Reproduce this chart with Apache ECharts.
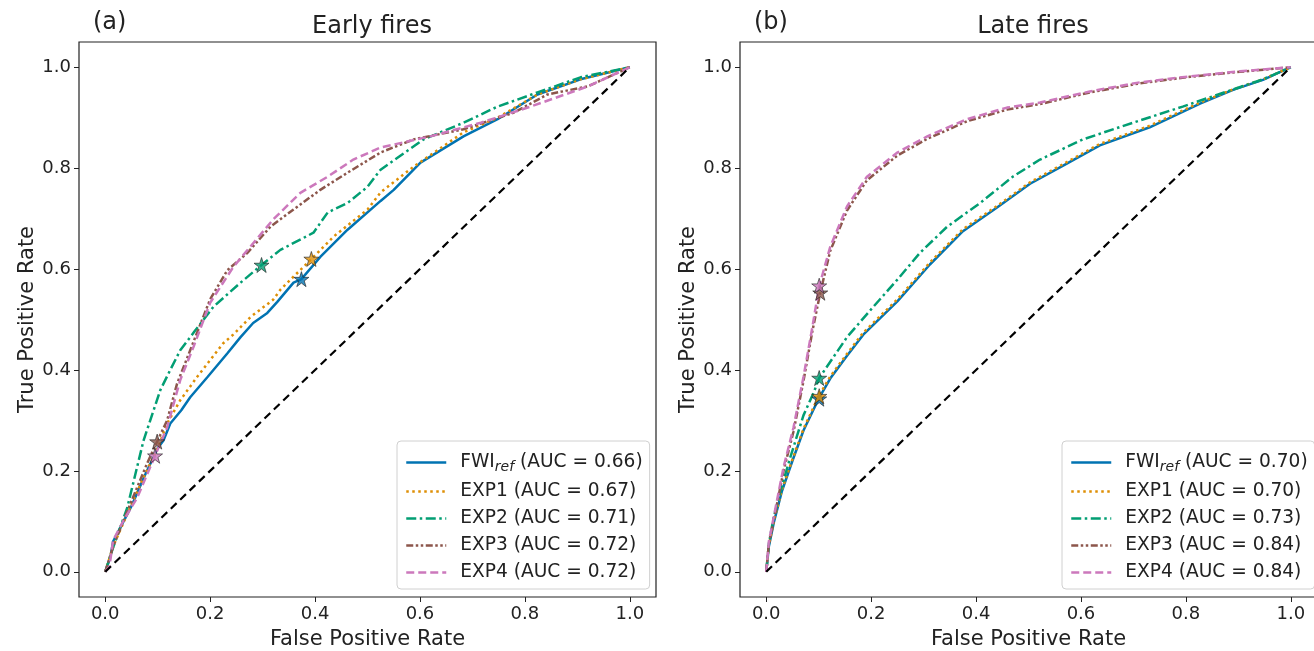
<!DOCTYPE html>
<html><head><meta charset="utf-8">
<script src="https://cdn.jsdelivr.net/npm/echarts@6/dist/echarts.min.js"></script>
<style>html,body{margin:0;padding:0;background:#fff}#c{width:1314px;height:651px}</style>
</head><body><div id="c"></div>
<script>
// ---- data ----
const seriesNames = ['FWI_ref', 'EXP1', 'EXP2', 'EXP3', 'EXP4'];
const aucEarly = ['0.66', '0.67', '0.71', '0.72', '0.72'];
const aucLate = ['0.70', '0.70', '0.73', '0.84', '0.84'];
const tickValues = [0, 0.2, 0.4, 0.6, 0.8, 1.0];
const panelTitles = ['Early fires', 'Late fires'];
const panelLetters = ['(a)', '(b)'];

const earlyFWI = [[0,0],[0.01,0.03],[0.015,0.06],[0.03,0.09],[0.05,0.13],[0.075,0.19],[0.1,0.245],[0.111,0.26],[0.124,0.294],[0.145,0.32],[0.162,0.346],[0.195,0.386],[0.233,0.433],[0.258,0.465],[0.282,0.493],[0.309,0.513],[0.328,0.535],[0.359,0.573],[0.374,0.58],[0.41,0.624],[0.462,0.678],[0.525,0.735],[0.55,0.757],[0.601,0.811],[0.683,0.863],[0.748,0.897],[0.824,0.946],[0.906,0.976],[1,1]];
const earlyEXP1 = [[0,0],[0.015,0.05],[0.04,0.11],[0.07,0.18],[0.1,0.245],[0.118,0.294],[0.143,0.34],[0.175,0.386],[0.225,0.453],[0.244,0.47],[0.277,0.505],[0.32,0.539],[0.334,0.559],[0.393,0.62],[0.435,0.664],[0.5,0.718],[0.525,0.752],[0.588,0.803],[0.683,0.871],[0.748,0.9],[0.824,0.946],[0.906,0.976],[1,1]];
const earlyEXP2 = [[0,0],[0.015,0.048],[0.042,0.127],[0.073,0.26],[0.105,0.36],[0.124,0.4],[0.143,0.439],[0.17,0.476],[0.206,0.525],[0.258,0.573],[0.298,0.608],[0.334,0.638],[0.397,0.672],[0.424,0.712],[0.462,0.731],[0.5,0.763],[0.525,0.797],[0.607,0.857],[0.683,0.89],[0.748,0.922],[0.824,0.95],[0.906,0.98],[1,1]];
const earlyEXP3 = [[0,0],[0.015,0.05],[0.048,0.135],[0.08,0.215],[0.099,0.258],[0.118,0.3],[0.137,0.373],[0.162,0.439],[0.2,0.54],[0.233,0.598],[0.271,0.632],[0.315,0.684],[0.359,0.718],[0.41,0.757],[0.462,0.791],[0.525,0.831],[0.588,0.857],[0.683,0.877],[0.779,0.91],[0.843,0.946],[0.92,0.962],[1,1]];
const earlyEXP4 = [[0,0],[0.008,0.01],[0.015,0.062],[0.034,0.1],[0.061,0.147],[0.095,0.23],[0.118,0.286],[0.143,0.38],[0.168,0.445],[0.2,0.533],[0.244,0.604],[0.32,0.698],[0.372,0.751],[0.424,0.783],[0.473,0.817],[0.525,0.841],[0.62,0.863],[0.716,0.89],[0.811,0.922],[0.92,0.962],[1,1]];
const earlyStars = [[0.374,0.58],[0.393,0.62],[0.298,0.608],[0.099,0.258],[0.095,0.23]];

const lateFWI = [[0,0],[0.005,0.05],[0.015,0.1],[0.03,0.16],[0.05,0.22],[0.071,0.28],[0.1,0.343],[0.122,0.383],[0.154,0.428],[0.185,0.47],[0.25,0.536],[0.312,0.609],[0.375,0.675],[0.44,0.722],[0.503,0.769],[0.573,0.809],[0.636,0.845],[0.731,0.881],[0.827,0.928],[0.89,0.955],[0.947,0.975],[1,1]];
const lateEXP1 = [[0,0],[0.005,0.052],[0.015,0.103],[0.03,0.163],[0.05,0.223],[0.071,0.283],[0.1,0.348],[0.122,0.387],[0.154,0.432],[0.185,0.474],[0.25,0.54],[0.312,0.613],[0.375,0.679],[0.44,0.725],[0.503,0.772],[0.573,0.812],[0.636,0.848],[0.731,0.884],[0.827,0.93],[0.89,0.956],[0.947,0.976],[1,1]];
const lateEXP2 = [[0,0],[0.005,0.055],[0.014,0.107],[0.03,0.17],[0.046,0.227],[0.071,0.31],[0.09,0.354],[0.101,0.384],[0.154,0.465],[0.204,0.525],[0.25,0.579],[0.293,0.632],[0.345,0.684],[0.408,0.731],[0.47,0.783],[0.522,0.817],[0.604,0.857],[0.699,0.89],[0.794,0.922],[0.89,0.956],[0.947,0.976],[1,1]];
const lateEXP3 = [[0,0],[0.005,0.055],[0.014,0.1],[0.033,0.2],[0.052,0.278],[0.071,0.378],[0.088,0.477],[0.103,0.553],[0.122,0.636],[0.154,0.716],[0.192,0.776],[0.25,0.825],[0.307,0.858],[0.383,0.893],[0.459,0.916],[0.522,0.927],[0.617,0.95],[0.712,0.968],[0.808,0.981],[0.903,0.991],[1,1]];
const lateEXP4 = [[0,0],[0.005,0.06],[0.014,0.107],[0.033,0.207],[0.052,0.286],[0.071,0.386],[0.088,0.485],[0.101,0.566],[0.122,0.644],[0.154,0.724],[0.192,0.783],[0.25,0.831],[0.307,0.863],[0.383,0.897],[0.459,0.92],[0.522,0.93],[0.617,0.952],[0.712,0.97],[0.808,0.982],[0.903,0.992],[1,1]];
const lateStars = [[0.101,0.343],[0.101,0.348],[0.101,0.384],[0.103,0.553],[0.101,0.567]];
const diagonal = [[0,0],[1,1]];

// ---- styles ----
const colors = ['#0173b2', '#de8f05', '#029e73', '#8c564b', '#cc78bc'];
const dashes = ['solid', [2.5, 3.5], [10, 3.5, 2.5, 3.5], [7, 2.5, 2.5, 2.5, 2.5, 2.5], [8, 4]];
const FONT = 'DejaVu Sans';
const STAR = 'path://M50,0 L61.2,34.5 L97.6,34.5 L68.2,55.9 L79.4,90.5 L50,69.1 L20.6,90.5 L31.8,55.9 L2.4,34.5 L38.8,34.5 Z';

const panels = [
  {curves: [earlyFWI, earlyEXP1, earlyEXP2, earlyEXP3, earlyEXP4], stars: earlyStars, auc: aucEarly},
  {curves: [lateFWI, lateEXP1, lateEXP2, lateEXP3, lateEXP4], stars: lateStars, auc: aucLate}
];
const gridLefts = [79, 740];
const gridW = 577, gridTop = 42, gridH = 555;

const series = [];
const legends = [];
panels.forEach((p, pi) => {
  const names = [];
  p.curves.forEach((c, i) => {
    const nm = seriesNames[i] + ' (AUC = ' + p.auc[i] + ')' + (pi ? '\u200b' : '');
    names.push(nm);
    series.push({
      type: 'line', name: nm, xAxisIndex: pi, yAxisIndex: pi, data: c,
      showSymbol: false, symbol: 'none', smooth: false, animation: false, z: 2 + i,
      lineStyle: {color: colors[i], width: 2.5, type: dashes[i], cap: 'butt'},
      itemStyle: {color: colors[i]}
    });
  });
  series.push({
    type: 'line', xAxisIndex: pi, yAxisIndex: pi, data: diagonal, showSymbol: false, symbol: 'none',
    animation: false, z: 8, lineStyle: {color: '#000', width: 2.2, type: [8, 5]}
  });
  series.push({
    type: 'scatter', xAxisIndex: pi, yAxisIndex: pi, animation: false, z: 10,
    symbol: STAR, symbolSize: 15,
    data: p.stars.map((s, i) => ({value: s, itemStyle: {color: colors[i], borderColor: '#222', borderWidth: 0.8}}))
  });
  legends.push({
    orient: 'vertical', left: gridLefts[pi] + (pi ? 322 : 318), top: 441,
    data: names, itemWidth: 40, itemHeight: 12, itemGap: 8,
    padding: [12, 7, 7, 8],
    backgroundColor: 'rgba(255,255,255,0.8)', borderColor: '#d0d0d0', borderWidth: 1, borderRadius: 4,
    selectedMode: false,
    itemStyle: {color: 'transparent', borderWidth: 0, opacity: 0},
    textStyle: {fontFamily: FONT, fontSize: 18.6, color: '#222', padding: [0, 0, 0, 9],
      rich: {sub: {fontFamily: FONT, fontSize: 14, fontStyle: 'italic', color: '#222', padding: [9, 0, 0, 0]}}},
    formatter: n => n.replace('\u200b', '').replace('FWI_ref', 'FWI{sub|ref}'),
    lineStyle: {width: 2.5}
  });
});

const axisCommon = {
  type: 'value', min: -0.05, max: 1.05,
  splitLine: {show: false},
  axisLine: {show: false, onZero: false},
  axisTick: {show: true, inside: false, length: 5, lineStyle: {color: '#222', width: 1}, customValues: tickValues},
  axisLabel: {customValues: tickValues, fontFamily: FONT, fontSize: 18, color: '#222', margin: 8,
    formatter: v => v.toFixed(1)},
  nameTextStyle: {fontFamily: FONT, fontSize: 21, color: '#222'}
};

const option = {
  backgroundColor: '#fff',
  animation: false,
  title: [
    {text: panelTitles[0], left: 367, textAlign: 'center', top: 10, textStyle: {fontFamily: FONT, fontSize: 24, fontWeight: 'normal', color: '#222'}},
    {text: panelTitles[1], left: 1028, textAlign: 'center', top: 10, textStyle: {fontFamily: FONT, fontSize: 24, fontWeight: 'normal', color: '#222'}},
    {text: panelLetters[0], left: 88, top: 6, textStyle: {fontFamily: FONT, fontSize: 24, fontWeight: 'normal', color: '#222'}},
    {text: panelLetters[1], left: 749, top: 6, textStyle: {fontFamily: FONT, fontSize: 24, fontWeight: 'normal', color: '#222'}}
  ],
  grid: gridLefts.map(l => ({left: l, top: gridTop, width: gridW, height: gridH, show: true, containLabel: false, outerBoundsMode: 'none', borderColor: '#222', borderWidth: 1.2, backgroundColor: 'transparent'})),
  xAxis: [0, 1].map(i => Object.assign({}, axisCommon, {gridIndex: i, position: 'bottom', name: 'False Positive Rate', nameLocation: 'middle', nameGap: 32})),
  yAxis: [0, 1].map(i => Object.assign({}, axisCommon, {gridIndex: i, position: 'left', name: 'True Positive Rate', nameLocation: 'middle', nameGap: 41})),
  legend: legends,
  series: series
};
const chart = echarts.init(document.getElementById('c'), null, {renderer: 'canvas'});
chart.setOption(option);
</script></body></html>
